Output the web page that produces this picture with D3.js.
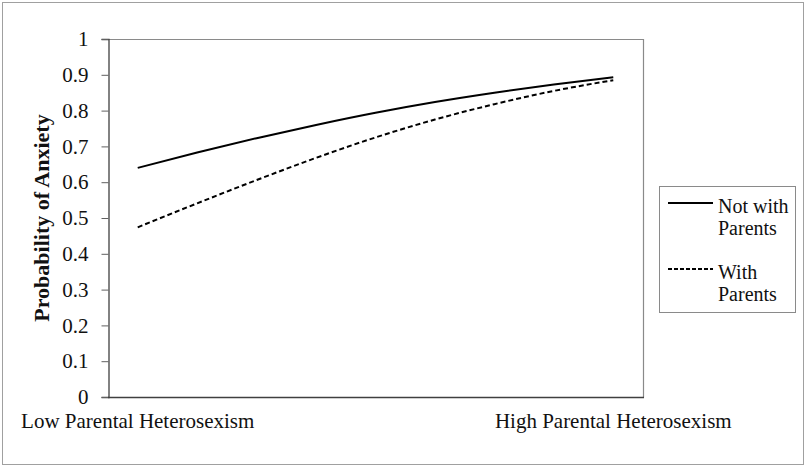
<!DOCTYPE html>
<html>
<head>
<meta charset="utf-8">
<script src="https://cdn.jsdelivr.net/npm/d3@7"></script>
<style>
	body { margin: 0; background: #fff; }
	svg { display: block; }
</style>
</head>
<body>
<svg id="chart" width="807" height="468"></svg>
<script>
// positions along heterosexism axis (low -> high)
var steps = [0, 1, 2, 3, 4, 5, 6, 7, 8];
// values
var notWithParents = [0.640, 0.683, 0.723, 0.760, 0.794, 0.824, 0.850, 0.873, 0.893];
var withParents = [0.474, 0.541, 0.606, 0.668, 0.725, 0.775, 0.818, 0.855, 0.885];
var yTicks = [0, 0.1, 0.2, 0.3, 0.4, 0.5, 0.6, 0.7, 0.8, 0.9, 1];
var xLabels = [
	{step: 0, text: "Low Parental Heterosexism"},
	{step: 8, text: "High Parental Heterosexism"}
];
var legendItems = [
	{lines: ["Not with", "Parents"], dash: null},
	{lines: ["With", "Parents"], dash: "4,2"}
];

var font = "'Liberation Serif', 'Times New Roman', serif";
var plot = {left: 108, top: 39, right: 643, bottom: 397};

var svg = d3.select("#chart");

// outer frame
svg.append("rect")
	.attr("x", 2.5).attr("y", 2.5)
	.attr("width", 801).attr("height", 462)
	.attr("fill", "none")
	.attr("stroke", "#a0a0a0")
	.attr("stroke-width", 1);

var x = d3.scaleLinear()
	.domain([-0.5, 8.5])
	.range([plot.left, plot.right]);
var y = d3.scaleLinear()
	.domain([0, 1])
	.range([plot.bottom, plot.top]);

// plot frame (top and right)
svg.append("path")
	.attr("d", "M" + (plot.left + 0.5) + "," + (plot.top + 0.5) + "H" + (plot.right + 0.5) + "V" + (plot.bottom + 0.5))
	.attr("fill", "none")
	.attr("stroke", "#8a8a8a")
	.attr("stroke-width", 1.2);

var yAxis = d3.axisLeft(y)
	.tickValues(yTicks)
	.tickSize(7)
	.tickPadding(13)
	.tickFormat(function(d){ return d3.format("")(+d.toFixed(1)); });

var gy = svg.append("g")
	.attr("transform", "translate(" + (plot.left + 0.5) + ",0)")
	.call(yAxis);
gy.select(".domain").attr("stroke", "#404040").attr("stroke-width", 1.3);
gy.selectAll(".tick line").attr("stroke", "#606060");
gy.selectAll(".tick text")
	.attr("font-family", font)
	.attr("font-size", 21)
	.attr("fill", "#111");

// bottom axis line
svg.append("line")
	.attr("x1", plot.left).attr("x2", plot.right + 1)
	.attr("y1", plot.bottom + 0.5).attr("y2", plot.bottom + 0.5)
	.attr("stroke", "#404040")
	.attr("stroke-width", 1.3);

svg.selectAll(".xlabel")
	.data(xLabels)
	.enter().append("text")
		.attr("class", "xlabel")
		.attr("x", function(d){ return x(d.step); })
		.attr("y", 428)
		.attr("text-anchor", "middle")
		.attr("font-family", font)
		.attr("font-size", 21)
		.attr("fill", "#111")
		.text(function(d){ return d.text; });

svg.append("text")
	.attr("transform", "translate(49," + ((plot.top + plot.bottom) / 2) + ") rotate(-90)")
	.attr("text-anchor", "middle")
	.attr("font-family", font)
	.attr("font-size", 22)
	.attr("font-weight", "bold")
	.attr("fill", "#111")
	.text("Probability of Anxiety");

var line = d3.line()
	.x(function(d, i){ return x(steps[i]); })
	.y(function(d){ return y(d); })
	.curve(d3.curveMonotoneX);

svg.append("path")
	.datum(notWithParents)
	.attr("fill", "none")
	.attr("stroke", "#000")
	.attr("stroke-width", 2)
	.attr("d", line);

svg.append("path")
	.datum(withParents)
	.attr("fill", "none")
	.attr("stroke", "#000")
	.attr("stroke-width", 2)
	.attr("stroke-dasharray", "5,3")
	.attr("d", line);

// legend
var legend = svg.append("g").attr("transform", "translate(659,186)");
legend.append("rect")
	.attr("x", 0.5).attr("y", 0.5)
	.attr("width", 136).attr("height", 126)
	.attr("fill", "#fff")
	.attr("stroke", "#8a8a8a");

legendItems.forEach(function(item, i){
	var top = 17 + i * 66;
	legend.append("line")
		.attr("x1", 9).attr("x2", 54)
		.attr("y1", top).attr("y2", top)
		.attr("stroke", "#000")
		.attr("stroke-width", 2)
		.attr("stroke-dasharray", item.dash);
	item.lines.forEach(function(t, j){
		legend.append("text")
			.attr("x", 59)
			.attr("y", top + 10 + j * 22)
			.attr("font-family", font)
			.attr("font-size", 20)
			.attr("fill", "#111")
			.text(t);
	});
});
</script>
</body>
</html>
